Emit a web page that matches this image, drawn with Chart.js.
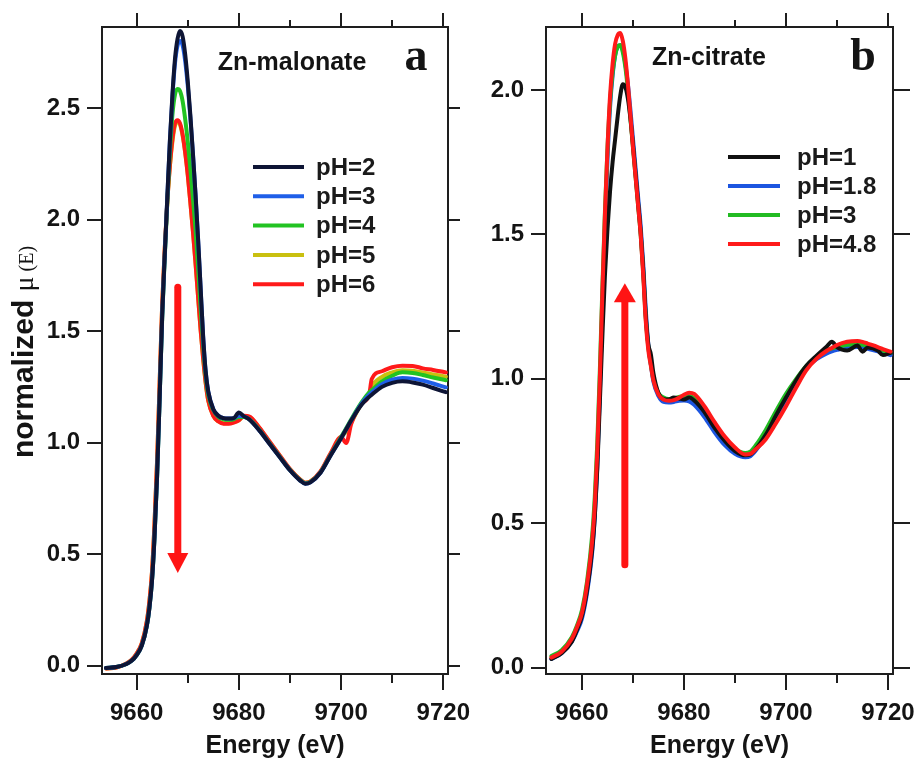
<!DOCTYPE html>
<html>
<head>
<meta charset="utf-8">
<script src="https://cdn.jsdelivr.net/npm/chart.js@4.4.1/dist/chart.umd.min.js"></script>
<style>
  html, body { margin: 0; padding: 0; background: #fff; }
  #wrapA { position: absolute; left: 0; top: 0; width: 472px; height: 761px; }
  #wrapB { position: absolute; left: 472px; top: 0; width: 446px; height: 761px; }
</style>
</head>
<body>
<div id="wrapA"><canvas id="chartA"></canvas></div>
<div id="wrapB"><canvas id="chartB"></canvas></div>
<script>
// ---- dados ----
const ticksEnergia = [9660, 9680, 9700, 9720];
const ticksMenores = [9670, 9690, 9710];
const ticksMuA = [0, 0.5, 1.0, 1.5, 2.0, 2.5];
const ticksMuB = [0, 0.5, 1.0, 1.5, 2.0];

// painel a: Zn-malonate
const energiaA = [9654, 9656, 9658, 9659, 9660, 9661, 9662, 9662.5, 9663, 9663.5, 9664, 9664.5, 9665, 9665.5, 9666, 9666.5, 9667, 9667.5, 9668, 9668.5, 9669, 9669.5, 9670, 9670.5, 9671, 9671.5, 9672, 9672.5, 9673, 9673.5, 9674, 9675, 9676, 9677, 9678, 9679, 9680, 9681, 9682, 9684, 9686, 9688, 9690, 9692, 9693, 9694, 9696, 9698, 9700, 9701, 9702, 9704, 9705.5, 9706, 9708, 9710, 9712, 9714, 9716, 9718, 9720.5];
const rotulosA = ['pH=2', 'pH=3', 'pH=4', 'pH=5', 'pH=6'];
const coresA = ['#0e1535', '#1f5fe8', '#22c322', '#c9c010', '#ff1a1a'];
const muA_pH2 = [-0.01, -0.006, 0.008, 0.022, 0.048, 0.09, 0.18, 0.26, 0.38, 0.58, 0.85, 1.2, 1.57, 1.84, 2.1, 2.35, 2.56, 2.72, 2.81, 2.845, 2.82, 2.74, 2.62, 2.47, 2.30, 2.12, 1.92, 1.70, 1.48, 1.32, 1.23, 1.15, 1.12, 1.11, 1.108, 1.11, 1.135, 1.118, 1.105, 1.055, 0.995, 0.935, 0.876, 0.83, 0.816, 0.822, 0.866, 0.945, 1.02, 1.06, 1.10, 1.17, 1.205, 1.215, 1.25, 1.268, 1.275, 1.27, 1.26, 1.245, 1.226];
const muA_pH3 = [-0.01, -0.006, 0.008, 0.022, 0.048, 0.09, 0.18, 0.26, 0.38, 0.58, 0.85, 1.2, 1.57, 1.84, 2.1, 2.35, 2.55, 2.70, 2.78, 2.80, 2.78, 2.71, 2.60, 2.46, 2.30, 2.12, 1.92, 1.70, 1.48, 1.32, 1.23, 1.15, 1.12, 1.11, 1.108, 1.11, 1.12, 1.118, 1.105, 1.055, 0.995, 0.935, 0.876, 0.83, 0.816, 0.822, 0.866, 0.945, 1.02, 1.06, 1.10, 1.175, 1.215, 1.225, 1.262, 1.282, 1.29, 1.287, 1.278, 1.265, 1.248];
const muA_pH4 = [-0.01, -0.006, 0.008, 0.022, 0.048, 0.09, 0.18, 0.26, 0.38, 0.58, 0.85, 1.2, 1.56, 1.83, 2.08, 2.3, 2.47, 2.56, 2.585, 2.575, 2.53, 2.45, 2.35, 2.23, 2.10, 1.96, 1.79, 1.61, 1.44, 1.30, 1.215, 1.145, 1.115, 1.105, 1.103, 1.105, 1.115, 1.115, 1.105, 1.058, 0.997, 0.937, 0.878, 0.832, 0.818, 0.824, 0.868, 0.947, 1.025, 1.065, 1.105, 1.18, 1.225, 1.235, 1.275, 1.30, 1.315, 1.312, 1.303, 1.292, 1.28];
const muA_pH5 = [-0.012, -0.008, 0.01, 0.026, 0.055, 0.10, 0.20, 0.29, 0.42, 0.64, 0.92, 1.27, 1.62, 1.87, 2.08, 2.24, 2.35, 2.42, 2.44, 2.425, 2.375, 2.30, 2.20, 2.08, 1.95, 1.81, 1.66, 1.51, 1.38, 1.27, 1.19, 1.12, 1.095, 1.087, 1.087, 1.092, 1.10, 1.118, 1.115, 1.066, 1.003, 0.941, 0.88, 0.834, 0.82, 0.826, 0.87, 0.952, 1.025, 1.05, 1.09, 1.175, 1.215, 1.25, 1.295, 1.315, 1.325, 1.322, 1.314, 1.306, 1.296];
const muA_pH6 = [-0.012, -0.008, 0.01, 0.026, 0.055, 0.10, 0.20, 0.29, 0.42, 0.64, 0.92, 1.27, 1.62, 1.87, 2.08, 2.24, 2.36, 2.43, 2.445, 2.43, 2.38, 2.30, 2.20, 2.08, 1.95, 1.81, 1.66, 1.51, 1.38, 1.27, 1.19, 1.12, 1.095, 1.085, 1.085, 1.09, 1.10, 1.12, 1.118, 1.068, 1.005, 0.943, 0.882, 0.835, 0.82, 0.826, 0.872, 0.955, 1.025, 0.998, 1.085, 1.175, 1.215, 1.285, 1.32, 1.338, 1.345, 1.344, 1.333, 1.326, 1.315];

// painel b: Zn-citrate
const energiaB = [9654, 9656, 9658, 9659, 9660, 9661, 9662, 9662.5, 9663, 9663.5, 9664, 9664.5, 9665, 9665.5, 9666, 9666.5, 9667, 9667.5, 9668, 9668.5, 9669, 9669.5, 9670, 9670.5, 9671, 9671.5, 9672, 9672.5, 9673, 9673.5, 9674, 9675, 9676, 9677, 9678, 9679, 9680, 9681, 9682, 9684, 9686, 9688, 9690, 9692, 9693, 9694, 9696, 9698, 9700, 9702, 9704, 9706, 9708, 9709, 9710, 9712, 9714, 9715, 9716, 9718, 9719, 9720.5];
const rotulosB = ['pH=1', 'pH=1.8', 'pH=3', 'pH=4.8'];
const coresB = ['#111111', '#1c55e0', '#22bb22', '#ff1a1a'];
const muB_pH1 = [0.03, 0.05, 0.09, 0.13, 0.18, 0.27, 0.41, 0.52, 0.69, 0.92, 1.15, 1.36, 1.52, 1.65, 1.75, 1.83, 1.91, 1.98, 2.02, 2.01, 1.97, 1.90, 1.81, 1.71, 1.61, 1.51, 1.38, 1.22, 1.12, 1.085, 1.02, 0.95, 0.93, 0.928, 0.935, 0.932, 0.928, 0.935, 0.925, 0.885, 0.83, 0.785, 0.75, 0.735, 0.738, 0.755, 0.805, 0.872, 0.935, 0.995, 1.045, 1.08, 1.112, 1.128, 1.11, 1.098, 1.115, 1.094, 1.108, 1.098, 1.082, 1.09];
const muB_pH18 = [0.03, 0.05, 0.09, 0.125, 0.17, 0.26, 0.40, 0.52, 0.70, 0.95, 1.25, 1.52, 1.76, 1.94, 2.05, 2.12, 2.15, 2.155, 2.14, 2.09, 2.02, 1.93, 1.83, 1.73, 1.63, 1.53, 1.40, 1.24, 1.12, 1.05, 0.99, 0.94, 0.92, 0.918, 0.92, 0.924, 0.925, 0.922, 0.91, 0.868, 0.815, 0.77, 0.74, 0.728, 0.732, 0.75, 0.80, 0.865, 0.93, 0.99, 1.038, 1.068, 1.088, 1.095, 1.10, 1.108, 1.11, 1.108, 1.104, 1.095, 1.09, 1.082];
const muB_pH3 = [0.04, 0.06, 0.105, 0.145, 0.20, 0.30, 0.46, 0.59, 0.78, 1.03, 1.32, 1.58, 1.80, 1.96, 2.06, 2.12, 2.15, 2.156, 2.13, 2.08, 2.0, 1.90, 1.80, 1.70, 1.60, 1.50, 1.37, 1.21, 1.11, 1.05, 1.0, 0.95, 0.935, 0.93, 0.932, 0.937, 0.94, 0.94, 0.933, 0.89, 0.835, 0.79, 0.756, 0.743, 0.748, 0.768, 0.822, 0.887, 0.948, 1.0, 1.045, 1.077, 1.098, 1.105, 1.11, 1.118, 1.12, 1.118, 1.114, 1.104, 1.098, 1.09];
const muB_pH48 = [0.035, 0.055, 0.10, 0.14, 0.19, 0.29, 0.44, 0.56, 0.75, 1.0, 1.3, 1.57, 1.8, 1.98, 2.09, 2.16, 2.19, 2.197, 2.17, 2.11, 2.02, 1.91, 1.80, 1.70, 1.60, 1.50, 1.36, 1.20, 1.10, 1.045, 0.995, 0.945, 0.928, 0.924, 0.926, 0.934, 0.945, 0.952, 0.948, 0.905, 0.85, 0.80, 0.762, 0.738, 0.74, 0.755, 0.79, 0.845, 0.905, 0.97, 1.03, 1.07, 1.097, 1.107, 1.117, 1.128, 1.131, 1.128, 1.122, 1.11, 1.103, 1.094];

// setas (em unidades de dados)
const setaA = { x: 9668.05, de: 1.697, ate: 0.416 };
const setaB = { x: 9668.4, de: 0.356, ate: 1.331 };

// ---- estilo ----
const fonteSans = "'Liberation Sans', Arial, Helvetica, sans-serif";
const fonteSerif = "'Liberation Serif', 'Times New Roman', serif";
const corEixo = '#1e1e1e';

function pontos(xs, ys) {
    return xs.map((x, i) => ({ x: x, y: ys[i] }));
}

const extrasPlugin = {
    id: 'extras',
    afterDatasetsDraw(chart, args, opts) {
        const ctx = chart.ctx;
        const sx = chart.scales.x, sy = chart.scales.y;
        const s = opts.seta;
        if (!s) return;
        const x = sx.getPixelForValue(s.x);
        const y0 = sy.getPixelForValue(s.de);
        const y1 = sy.getPixelForValue(s.ate);
        const dir = Math.sign(y1 - y0);
        const yb = y1 - dir * s.cabeca;
        ctx.save();
        ctx.strokeStyle = '#ff1414';
        ctx.fillStyle = '#ff1414';
        ctx.lineWidth = s.largura;
        ctx.lineCap = 'round';
        ctx.beginPath();
        ctx.moveTo(x, y0);
        ctx.lineTo(x, yb);
        ctx.stroke();
        ctx.beginPath();
        ctx.moveTo(x - s.cabecaL / 2, yb);
        ctx.lineTo(x + s.cabecaL / 2, yb);
        ctx.lineTo(x, y1);
        ctx.closePath();
        ctx.fill();
        ctx.restore();
    },
    afterDraw(chart, args, opts) {
        const ctx = chart.ctx;
        const area = chart.chartArea;
        const sx = chart.scales.x;
        ctx.save();

        // ticks menores em cima e embaixo
        ctx.strokeStyle = corEixo;
        ctx.lineWidth = 2;
        ticksMenores.forEach(v => {
            const px = Math.round(sx.getPixelForValue(v));
            ctx.beginPath();
            ctx.moveTo(px, area.bottom);
            ctx.lineTo(px, area.bottom + 9);
            ctx.moveTo(px, area.top);
            ctx.lineTo(px, area.top - 7);
            ctx.stroke();
        });

        // legenda
        const lg = opts.legenda;
        chart.data.datasets.forEach((ds, i) => {
            const y = lg.y0 + i * lg.dy;
            ctx.strokeStyle = ds.borderColor;
            ctx.lineWidth = 4;
            ctx.lineCap = 'butt';
            ctx.beginPath();
            ctx.moveTo(lg.x0, y);
            ctx.lineTo(lg.x1, y);
            ctx.stroke();
            ctx.fillStyle = '#1a1a1a';
            ctx.font = 'bold 24px ' + fonteSans;
            ctx.textAlign = 'left';
            ctx.textBaseline = 'middle';
            ctx.fillText(ds.label, lg.tx, y + 1);
        });

        // textos do painel
        (opts.textos || []).forEach(t => {
            ctx.fillStyle = '#141414';
            ctx.font = t.fonte;
            ctx.textAlign = 'center';
            ctx.textBaseline = t.base;
            ctx.fillText(t.texto, t.x, t.y);
        });

        // titulo do eixo y com fontes mistas
        const yt = opts.tituloY;
        if (yt) {
            ctx.translate(yt.x, yt.y);
            ctx.rotate(-Math.PI / 2);
            ctx.textBaseline = 'alphabetic';
            ctx.textAlign = 'left';
            let total = 0;
            yt.partes.forEach(p => { ctx.font = p.fonte; total += ctx.measureText(p.texto).width; });
            let cx = -total / 2;
            yt.partes.forEach(p => {
                ctx.font = p.fonte;
                ctx.fillStyle = '#141414';
                ctx.fillText(p.texto, cx, 0);
                cx += ctx.measureText(p.texto).width;
            });
        }
        ctx.restore();
    }
};

function eixos(cfg) {
    const grade = (len) => ({
        drawOnChartArea: false, drawTicks: true, tickLength: len,
        color: corEixo, lineWidth: 2, tickWidth: 2
    });
    const borda = { display: true, color: corEixo, width: 2 };
    const fonteTick = { family: fonteSans, size: 24, weight: 'bold' };
    return {
        x: {
            type: 'linear', position: 'bottom', min: cfg.xMin, max: cfg.xMax,
            grid: grade(16), border: borda,
            afterBuildTicks: s => { s.ticks = ticksEnergia.map(v => ({ value: v })); },
            afterFit: s => { s.height = cfg.baixo; s.paddingLeft = 0; s.paddingRight = 0; },
            ticks: { autoSkip: false, maxRotation: 0, padding: 9, color: '#141414', font: fonteTick,
                     callback: v => String(v) },
            title: { display: true, text: 'Energy (eV)', color: '#141414', padding: 0,
                     font: { family: fonteSans, size: 25, weight: 'bold' } }
        },
        xTop: {
            type: 'linear', position: 'top', min: cfg.xMin, max: cfg.xMax,
            grid: grade(14), border: borda,
            afterBuildTicks: s => { s.ticks = ticksEnergia.map(v => ({ value: v })); },
            afterFit: s => { s.height = cfg.topo; s.paddingLeft = 0; s.paddingRight = 0; },
            ticks: { display: false, autoSkip: false }
        },
        y: {
            type: 'linear', position: 'left', min: cfg.yMin, max: cfg.yMax,
            grid: grade(15), border: borda,
            afterBuildTicks: s => { s.ticks = cfg.yTicks.map(v => ({ value: v })); },
            afterFit: s => { s.width = cfg.esq; s.paddingTop = 0; s.paddingBottom = 0; },
            ticks: { autoSkip: false, padding: 7, color: '#141414', font: fonteTick,
                     callback: v => v.toFixed(1) }
        },
        yRight: {
            type: 'linear', position: 'right', min: cfg.yMin, max: cfg.yMax,
            grid: grade(cfg.tickDir), border: borda,
            afterBuildTicks: s => { s.ticks = cfg.yTicks.map(v => ({ value: v })); },
            afterFit: s => { s.width = cfg.dir; s.paddingTop = 0; s.paddingBottom = 0; },
            ticks: { display: false, autoSkip: false }
        }
    };
}

function serie(rotulo, cor, xs, ys, ordem, larg) {
    return {
        label: rotulo, data: pontos(xs, ys), borderColor: cor, backgroundColor: cor,
        borderWidth: larg, pointRadius: 0, fill: false, order: ordem,
        cubicInterpolationMode: 'monotone', borderJoinStyle: 'round', borderCapStyle: 'round'
    };
}

// ---- painel a ----
const seriesA = [muA_pH2, muA_pH3, muA_pH4, muA_pH5, muA_pH6];
const ordemA = [0, 1, 2, 4, 3];
new Chart(document.getElementById('chartA'), {
    type: 'line',
    data: {
        datasets: seriesA.map((ys, i) => serie(rotulosA[i], coresA[i], energiaA, ys, ordemA[i], 4))
    },
    options: {
        responsive: true, maintainAspectRatio: false, animation: false,
        layout: { padding: 0 },
        scales: eixos({ xMin: 9653.22, xMax: 9720.92, yMin: -0.037, yMax: 2.863, yTicks: ticksMuA,
                        esq: 102, dir: 24, topo: 27, baixo: 87, tickDir: 12 }),
        plugins: {
            legend: { display: false }, tooltip: { enabled: false },
            extras: {
                seta: { ...setaA, largura: 7, cabeca: 20, cabecaL: 21 },
                legenda: { x0: 253, x1: 304, tx: 316, y0: 167, dy: 29.3 },
                textos: [
                    { texto: 'Zn-malonate', x: 292, y: 63, fonte: 'bold 25px ' + fonteSans, base: 'middle' },
                    { texto: 'a', x: 416, y: 70, fonte: 'bold 46px ' + fonteSerif, base: 'alphabetic' }
                ],
                tituloY: { x: 33, y: 352, partes: [
                    { texto: 'normalized ', fonte: 'bold 30px ' + fonteSans },
                    { texto: 'μ', fonte: '28px ' + fonteSerif },
                    { texto: ' (E)', fonte: '20px ' + fonteSerif }
                ] }
            }
        }
    },
    plugins: [extrasPlugin]
});

// ---- painel b ----
const seriesB = [muB_pH1, muB_pH18, muB_pH3, muB_pH48];
const ordemB = [1, 3, 2, 0];
new Chart(document.getElementById('chartB'), {
    type: 'line',
    data: {
        datasets: seriesB.map((ys, i) => serie(rotulosB[i], coresB[i], energiaB, ys, ordemB[i], 4))
    },
    options: {
        responsive: true, maintainAspectRatio: false, animation: false,
        layout: { padding: 0 },
        scales: eixos({ xMin: 9652.94, xMax: 9720.98, yMin: -0.022, yMax: 2.218, yTicks: ticksMuB,
                        esq: 74, dir: 25, topo: 27, baixo: 87, tickDir: 17 }),
        plugins: {
            legend: { display: false }, tooltip: { enabled: false },
            extras: {
                seta: { ...setaB, largura: 7, cabeca: 19, cabecaL: 22 },
                legenda: { x0: 256, x1: 308, tx: 325, y0: 157, dy: 29 },
                textos: [
                    { texto: 'Zn-citrate', x: 237, y: 58, fonte: 'bold 25px ' + fonteSans, base: 'middle' },
                    { texto: 'b', x: 391, y: 70, fonte: 'bold 46px ' + fonteSerif, base: 'alphabetic' }
                ]
            }
        }
    },
    plugins: [extrasPlugin]
});
</script>
</body>
</html>
